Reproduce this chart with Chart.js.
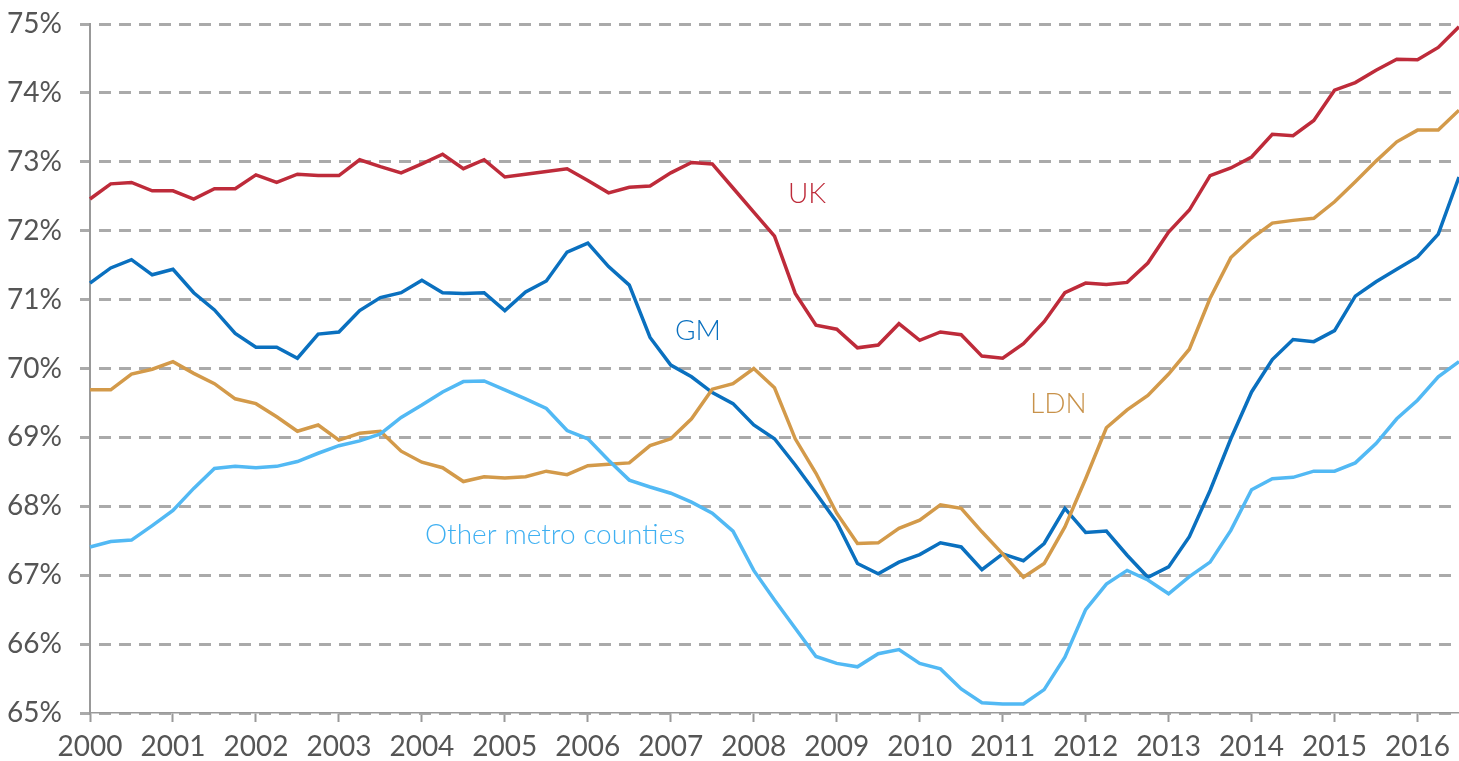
<!DOCTYPE html>
<html>
<head>
<meta charset="utf-8">
<script src="https://cdn.jsdelivr.net/npm/chart.js@4/dist/chart.umd.min.js"></script>
<style>
    html, body { margin: 0; padding: 0; background: #fff; }
    #wrap { width: 1459px; height: 761px; position: relative; }
</style>
</head>
<body>
<div id="wrap"><canvas id="grafico"></canvas></div>
<script>
// quarterly employment rate, Q1 2000 .. Q3 2016
const anos = [2000, 2001, 2002, 2003, 2004, 2005, 2006, 2007, 2008, 2009, 2010, 2011, 2012, 2013, 2014, 2015, 2016];
const trimestres = ['Q1', 'Q2', 'Q3', 'Q4'];
const eixoY = [65, 66, 67, 68, 69, 70, 71, 72, 73, 74, 75];

const uk = [
    72.46, 72.68, 72.70, 72.58, 72.58, 72.46, 72.61, 72.61, 72.81, 72.70, 72.82, 72.80,
    72.80, 73.03, 72.93, 72.84, 72.97, 73.11, 72.90, 73.03, 72.78, 72.82, 72.86, 72.90,
    72.73, 72.55, 72.63, 72.65, 72.84, 72.99, 72.97, 72.62, 72.27, 71.92, 71.09, 70.63,
    70.57, 70.30, 70.34, 70.65, 70.41, 70.53, 70.49, 70.18, 70.15, 70.36, 70.68, 71.10,
    71.24, 71.22, 71.25, 71.53, 71.98, 72.30, 72.80, 72.91, 73.07, 73.40, 73.38, 73.60,
    74.04, 74.15, 74.33, 74.49, 74.48, 74.66, 74.96
];
const gm = [
    71.24, 71.46, 71.58, 71.36, 71.44, 71.10, 70.85, 70.51, 70.31, 70.31, 70.15, 70.50,
    70.53, 70.84, 71.03, 71.10, 71.28, 71.10, 71.09, 71.10, 70.84, 71.11, 71.27, 71.69,
    71.82, 71.48, 71.21, 70.45, 70.05, 69.88, 69.65, 69.49, 69.18, 68.98, 68.60, 68.19,
    67.77, 67.17, 67.02, 67.19, 67.30, 67.47, 67.41, 67.08, 67.31, 67.21, 67.46, 67.97,
    67.62, 67.64, 67.29, 66.97, 67.12, 67.56, 68.23, 68.98, 69.66, 70.13, 70.42, 70.39,
    70.55, 71.05, 71.26, 71.44, 71.62, 71.95, 72.78
];
const ldn = [
    69.69, 69.69, 69.92, 69.99, 70.10, 69.93, 69.78, 69.56, 69.49, 69.30, 69.09, 69.18,
    68.96, 69.06, 69.09, 68.80, 68.64, 68.56, 68.36, 68.43, 68.41, 68.43, 68.51, 68.46,
    68.59, 68.61, 68.63, 68.88, 68.98, 69.27, 69.70, 69.78, 70.00, 69.72, 68.98, 68.48,
    67.90, 67.46, 67.47, 67.68, 67.80, 68.02, 67.97, 67.63, 67.31, 66.97, 67.17, 67.70,
    68.40, 69.14, 69.40, 69.61, 69.92, 70.28, 71.02, 71.61, 71.89, 72.11, 72.15, 72.18,
    72.42, 72.71, 73.01, 73.29, 73.46, 73.46, 73.75
];
const outrasMetro = [
    67.41, 67.49, 67.51, 67.72, 67.94, 68.26, 68.55, 68.58, 68.56, 68.58, 68.65, 68.77,
    68.88, 68.95, 69.05, 69.29, 69.47, 69.66, 69.81, 69.82, 69.69, 69.56, 69.42, 69.10,
    68.98, 68.67, 68.38, 68.28, 68.19, 68.06, 67.90, 67.64, 67.07, 66.64, 66.23, 65.82,
    65.72, 65.67, 65.86, 65.92, 65.72, 65.64, 65.35, 65.15, 65.13, 65.13, 65.34, 65.81,
    66.50, 66.87, 67.07, 66.93, 66.73, 66.98, 67.19, 67.65, 68.24, 68.40, 68.42, 68.51,
    68.51, 68.63, 68.91, 69.27, 69.54, 69.88, 70.10
];

const rotulos = anos.flatMap(a => trimestres.map(t => a + ' ' + t)).slice(0, uk.length);

const cores = {
    uk: '#BE2B3A',
    gm: '#0A70BF',
    ldn: '#D39A4A',
    outras: '#52B9F4'
};

// series names written on the chart (x in quarter index, y in %)
const nomes = [
    { texto: 'UK', x: 33.65, y: 72.40, cor: cores.uk },
    { texto: 'GM', x: 28.2, y: 70.41, cor: cores.gm },
    { texto: 'LDN', x: 45.32, y: 69.35, cor: '#C8924A' },
    { texto: 'Other metro counties', x: 16.15, y: 67.46, cor: '#3FB0F2' }
];

const fonte = '"Lato", "Open Sans", sans-serif';

const nomesPlugin = {
    id: 'nomes',
    afterDatasetsDraw(chart) {
        const { ctx, scales } = chart;
        ctx.save();
        ctx.font = '300 28px ' + fonte;
        ctx.textAlign = 'left';
        ctx.textBaseline = 'alphabetic';
        nomes.forEach(n => {
            ctx.fillStyle = n.cor;
            ctx.fillText(n.texto, scales.x.getPixelForValue(n.x), scales.y.getPixelForValue(n.y));
        });
        ctx.restore();
    }
};

const serie = (dados, cor) => ({
    data: dados,
    borderColor: cor,
    borderWidth: 3.5,
    pointRadius: 0,
    tension: 0,
    fill: false
});

new Chart(document.getElementById('grafico'), {
    type: 'line',
    data: {
        labels: rotulos,
        datasets: [
            serie(outrasMetro, cores.outras),
            serie(ldn, cores.ldn),
            serie(gm, cores.gm),
            serie(uk, cores.uk)
        ]
    },
    options: {
        responsive: true,
        maintainAspectRatio: false,
        animation: false,
        layout: { padding: 0 },
        plugins: {
            legend: { display: false },
            tooltip: { enabled: false }
        },
        scales: {
            x: {
                offset: false,
                afterFit: s => { s.height = 48; },
                afterBuildTicks: s => {
                    s.ticks = s.ticks.filter(t => t.value % 4 === 0);
                },
                ticks: {
                    autoSkip: false,
                    maxRotation: 0,
                    padding: 8,
                    color: '#555',
                    font: { family: fonte, size: 28 },
                    callback: function (v) { return String(anos[v / 4]); }
                },
                grid: {
                    drawOnChartArea: false,
                    tickLength: 9,
                    tickColor: '#999',
                    tickWidth: 2
                },
                border: { display: true, color: '#999', width: 1.5 }
            },
            y: {
                min: eixoY[0],
                max: eixoY[eixoY.length - 1],
                afterFit: s => { s.width = 90; },
                afterBuildTicks: s => {
                    s.ticks = eixoY.map(v => ({ value: v }));
                },
                ticks: {
                    padding: 18,
                    color: '#555',
                    // small lineHeight only to keep the plot top near the canvas edge
                    font: { family: fonte, size: 28, lineHeight: 0.43 },
                    callback: v => v + '%'
                },
                grid: {
                    color: '#aaa',
                    lineWidth: 3,
                    tickLength: 10,
                    tickColor: '#aaa',
                    tickWidth: 3
                },
                border: { display: true, color: '#999', width: 2, dash: [12, 8], dashOffset: 12 }
            }
        }
    },
    plugins: [nomesPlugin]
});
</script>
</body>
</html>
